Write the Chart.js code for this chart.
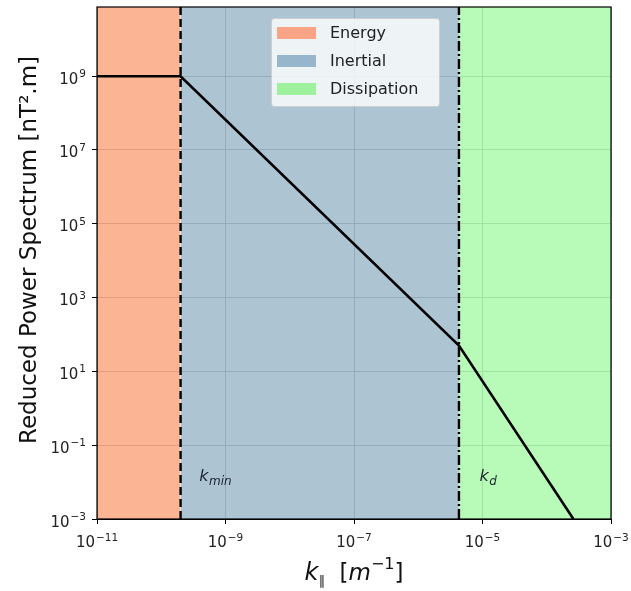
<!DOCTYPE html>
<html>
<head>
<meta charset="utf-8">
<script src="https://cdn.jsdelivr.net/npm/chart.js@4/dist/chart.umd.min.js"></script>
<style>
  html, body { margin: 0; padding: 0; background: #fff; }
  #wrap { width: 631px; height: 591px; }
</style>
</head>
<body>
<div id="wrap"><canvas id="c" width="631" height="591"></canvas></div>
<script>
// Turbulence spectrum regimes
const regionNames = ['Energy', 'Inertial', 'Dissipation'];
const regionEdges = [1e-11, 2e-10, 4.3e-6, 1e-3];      // k boundaries [m^-1]
const regionFill = ['rgba(250,148,102,0.7)', 'rgba(138,171,193,0.7)', 'rgba(154,249,154,0.7)'];
const legendPatch = ['#f8a486', '#98b6cb', '#9ef29e'];

// Break wavenumbers
const kMin = 2e-10;
const kD = 4.3e-6;

// Reduced power spectrum (piecewise power law vertices)
const spectrumK = [1e-11, 2e-10, 4.3e-6, 2.6e-4];
const spectrumP = [1e9, 1e9, 50, 1e-3];

// Axis limits and ticks
const xLimits = [1e-11, 1e-3];
const yLimits = [1e-3, 7.5e10];
const xTicks = [1e-11, 1e-9, 1e-7, 1e-5, 1e-3];
const yTicks = [1e-3, 1e-1, 1e1, 1e3, 1e5, 1e7, 1e9];

const FONT = "'DejaVu Sans', sans-serif";

function exponentOf(v) {
  return String(Math.round(Math.log10(v))).replace('-', '\u2212');
}

const datasets = [];
datasets.push({
  label: 'spectrum',
  data: spectrumK.map((k, i) => ({x: k, y: spectrumP[i]})),
  borderColor: '#000', borderWidth: 2.6, pointRadius: 0, showLine: true, fill: false,
  order: 0, tension: 0
});
datasets.push({
  label: 'kmin',
  data: [{x: kMin, y: yLimits[0]}, {x: kMin, y: yLimits[1]}],
  borderColor: '#000', borderWidth: 2.4, borderDash: [8, 4], pointRadius: 0, showLine: true, fill: false,
  order: 1
});
datasets.push({
  label: 'kd',
  data: [{x: kD, y: yLimits[0]}, {x: kD, y: yLimits[1]}],
  borderColor: '#000', borderWidth: 2.4, borderDash: [10, 3, 2, 3], pointRadius: 0, showLine: true, fill: false,
  order: 1
});
regionNames.forEach((name, i) => {
  datasets.push({
    label: name,
    data: [{x: regionEdges[i], y: yLimits[1]}, {x: regionEdges[i + 1], y: yLimits[1]}],
    borderWidth: 0, borderColor: 'rgba(0,0,0,0)', backgroundColor: regionFill[i],
    pointRadius: 0, showLine: true, fill: 'start', order: 2
  });
});

// Power-of-ten label: "10" with a raised exponent
function drawPow(ctx, v, x, baseline, align) {
  const base = '10', exp = exponentOf(v);
  ctx.font = '15px ' + FONT;
  const wb = ctx.measureText(base).width;
  ctx.font = '10.5px ' + FONT;
  const we = ctx.measureText(exp).width;
  const total = wb + 1 + we;
  let left = align === 'right' ? x - total : x - total / 2;
  ctx.textAlign = 'left';
  ctx.textBaseline = 'alphabetic';
  ctx.fillStyle = '#222';
  ctx.font = '15px ' + FONT;
  ctx.fillText(base, left, baseline);
  ctx.font = '10.5px ' + FONT;
  ctx.fillText(exp, left + wb + 1, baseline - 6.5);
}

// Frame, tick labels, axis titles, regime labels and legend
const decorations = {
  id: 'decorations',
  afterDatasetsDraw(chart) {
    const ctx = chart.ctx;
    const a = chart.chartArea;
    const xs = chart.scales.x, ys = chart.scales.y;
    ctx.save();
    ctx.strokeStyle = '#000';
    ctx.lineWidth = 1.2;
    ctx.strokeRect(a.left, a.top, a.right - a.left, a.bottom - a.top);

    // tick labels
    xTicks.forEach(v => drawPow(ctx, v, xs.getPixelForValue(v), a.bottom + 28, 'center'));
    yTicks.forEach(v => drawPow(ctx, v, a.left - 11, ys.getPixelForValue(v) + 7.5, 'right'));

    // k labels inside the plot
    function kLabel(xVal, sub) {
      const px = xs.getPixelForValue(xVal);
      const py = ys.getPixelForValue(1.1e-2);
      ctx.fillStyle = '#1c2430';
      ctx.textBaseline = 'alphabetic';
      ctx.textAlign = 'left';
      ctx.font = 'italic 16px ' + FONT;
      ctx.fillText('k', px, py);
      const w = ctx.measureText('k').width;
      ctx.font = 'italic 12px ' + FONT;
      ctx.fillText(sub, px + w + 0.5, py + 4);
    }
    kLabel(3.9e-10, 'min');
    kLabel(9.0e-6, 'd');

    // Legend
    const lx = 271, ly = 18, lw = 168, lh = 88;
    ctx.fillStyle = 'rgba(255,255,255,0.8)';
    ctx.strokeStyle = 'rgba(205,205,205,0.9)';
    ctx.lineWidth = 1;
    ctx.beginPath();
    if (ctx.roundRect) ctx.roundRect(lx + 0.5, ly + 0.5, lw, lh, 3); else ctx.rect(lx + 0.5, ly + 0.5, lw, lh);
    ctx.fill();
    ctx.stroke();
    ctx.font = '16px ' + FONT;
    ctx.textBaseline = 'middle';
    ctx.textAlign = 'left';
    regionNames.forEach((name, i) => {
      const cy = ly + 15 + i * 28;
      ctx.fillStyle = legendPatch[i];
      ctx.fillRect(lx + 6, cy - 6, 39, 12);
      ctx.fillStyle = '#222';
      ctx.fillText(name, lx + 59, cy + 1);
    });

    // y-axis title
    ctx.save();
    ctx.translate(36, 250);
    ctx.rotate(-Math.PI / 2);
    ctx.font = '23px ' + FONT;
    ctx.fillStyle = '#111';
    ctx.textAlign = 'center';
    ctx.textBaseline = 'alphabetic';
    ctx.fillText('Reduced Power Spectrum [nT\u00B2.m]', 0, 0);
    ctx.restore();

    // x-axis title: k_parallel [m^-1]
    const parts = [
      {t: 'k', f: 'italic 24px ' + FONT, dy: 0},
      {t: '\u2225', f: '13px ' + FONT, dy: 5},
      {t: '  [', f: '23px ' + FONT, dy: 0},
      {t: 'm', f: 'italic 23px ' + FONT, dy: 0},
      {t: '\u22121', f: '16px ' + FONT, dy: -11},
      {t: ']', f: '23px ' + FONT, dy: 0}
    ];
    let total = 0;
    parts.forEach(p => { ctx.font = p.f; p.w = ctx.measureText(p.t).width; total += p.w; });
    let cx = (a.left + a.right) / 2 - total / 2;
    const base = 580;
    ctx.fillStyle = '#111';
    ctx.textAlign = 'left';
    ctx.textBaseline = 'alphabetic';
    parts.forEach(p => { ctx.font = p.f; ctx.fillText(p.t, cx, base + p.dy); cx += p.w; });
    ctx.restore();
  }
};

new Chart(document.getElementById('c'), {
  type: 'scatter',
  data: { datasets },
  options: {
    responsive: false,
    animation: false,
    layout: { padding: { left: 0, top: 7, right: 20, bottom: 0 } },
    plugins: { legend: { display: false }, tooltip: { enabled: false } },
    scales: {
      x: {
        type: 'logarithmic',
        min: xLimits[0], max: xLimits[1],
        afterBuildTicks: s => { s.ticks = xTicks.map(v => ({value: v})); },
        afterFit: s => { s.height = 72; },
        grid: { color: '#b0b0b0', lineWidth: 1, tickLength: 5, tickColor: '#000', drawTicks: true },
        border: { display: true, color: '#000', width: 1 },
        ticks: { display: false, autoSkip: false }
      },
      y: {
        type: 'logarithmic',
        min: yLimits[0], max: yLimits[1],
        afterBuildTicks: s => { s.ticks = yTicks.map(v => ({value: v})); },
        afterFit: s => { s.width = 97; },
        grid: { color: '#b0b0b0', lineWidth: 1, tickLength: 5, tickColor: '#000', drawTicks: true },
        border: { display: true, color: '#000', width: 1 },
        ticks: { display: false, autoSkip: false }
      }
    }
  },
  plugins: [decorations]
});
</script>
</body>
</html>
